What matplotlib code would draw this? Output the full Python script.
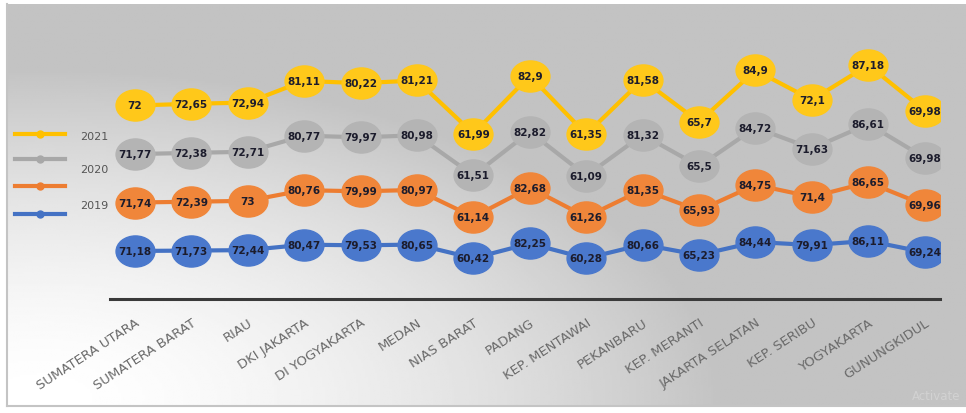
import numpy as np
import matplotlib
matplotlib.use("Agg")
import matplotlib.pyplot as plt
from matplotlib.path import Path
from matplotlib.lines import Line2D
from matplotlib.transforms import Affine2D

regions = ["SUMATERA UTARA", "SUMATERA BARAT", "RIAU", "DKI JAKARTA", "DI YOGYAKARTA",
           "MEDAN", "NIAS BARAT", "PADANG", "KEP. MENTAWAI", "PEKANBARU",
           "KEP. MERANTI", "JAKARTA SELATAN", "KEP. SERIBU", "YOGYAKARTA", "GUNUNGKIDUL"]

# values per year, stacked bottom to top as in the source workbook
ipm_2019 = [71.18, 71.73, 72.44, 80.47, 79.53, 80.65, 60.42, 82.25, 60.28, 80.66,
            65.23, 84.44, 79.91, 86.11, 69.24]
ipm_2020a = [71.74, 72.39, 73, 80.76, 79.99, 80.97, 61.14, 82.68, 61.26, 81.35,
             65.93, 84.75, 71.4, 86.65, 69.96]
ipm_2020b = [71.77, 72.38, 72.71, 80.77, 79.97, 80.98, 61.51, 82.82, 61.09, 81.32,
             65.5, 84.72, 71.63, 86.61, 69.98]
ipm_2021 = [72, 72.65, 72.94, 81.11, 80.22, 81.21, 61.99, 82.9, 61.35, 81.58,
            65.7, 84.9, 72.1, 87.18, 69.98]

series = [
    ("2019", ipm_2019, "#4472C4", "#4a78cc"),
    ("2020", ipm_2020a, "#ED7D31", "#f0863a"),
    ("2020", ipm_2020b, "#A8A8A8", "#b4b4b4"),
    ("2021", ipm_2021, "#FFC000", "#ffc81a"),
]

W, H = 966, 414
fig = plt.figure(figsize=(W / 100, H / 100), dpi=100)
fig.patch.set_facecolor("white")

# soft grey backdrop, lighter toward the lower left
bg = fig.add_axes([7 / W, 7 / H, 1 - 7 / W, 402 / H])
xx, yy = np.meshgrid(np.linspace(7, W, 400), np.linspace(5, 407, 200))
t = np.sqrt(((xx - 40) / 680.0) ** 2 + ((yy - 400) / 330.0) ** 2)
shade = 1 - 0.235 * np.clip(t, 0, 1) ** 1.6
bg.imshow(shade, cmap="gray", vmin=0, vmax=1, aspect="auto",
          extent=[0, 1, 0, 1], interpolation="bilinear")
bg.set_xticks([])
bg.set_yticks([])
for s in ["top", "right"]:
    bg.spines[s].set_visible(False)
for s in ["left", "bottom"]:
    bg.spines[s].set_color("#c4c4c4")
    bg.spines[s].set_linewidth(1.5)

ax = fig.add_axes([110 / W, (H - 300) / H, 830 / W, 270 / H])
ax.set_facecolor("none")
x = np.arange(len(regions))
ax.set_xlim(-0.44, 14.27)
ax.set_ylim(0, 400)

# slightly flattened bubble marker
ellipse = Path.unit_circle().transformed(Affine2D().scale(1.0, 0.8))

stack = np.cumsum([s[1] for s in series], axis=0)
for (name, vals, col, mcol), ys in zip(series, stack):
    ax.plot(x, ys, color=col, lw=3.0, zorder=2, solid_capstyle="round")
for (name, vals, col, mcol), ys in zip(series, stack):
    ax.plot(x, ys, linestyle="none", marker=ellipse, markersize=28,
            markerfacecolor=mcol, markeredgecolor=mcol, zorder=3)
    for xi, yi, v in zip(x, ys, vals):
        ax.text(xi, yi, f"{v:g}".replace(".", ","), ha="center", va="center",
                fontsize=7.5, fontweight="bold", color="#1c1c2c", zorder=4)

ax.set_xticks(x)
ax.set_xticklabels(regions, rotation=33, ha="right", rotation_mode="anchor",
                   fontsize=9.5, color="#6a6a6a")
ax.tick_params(axis="x", length=0, pad=12)
ax.set_yticks([])
for s in ["top", "right", "left"]:
    ax.spines[s].set_visible(False)
ax.spines["bottom"].set_color("#3a3a3a")
ax.spines["bottom"].set_linewidth(2.2)

# legend drawn by hand: four swatches, three year labels
sw_y = [215, 187, 160, 135]
for (name, vals, col, mcol), py in zip(series, sw_y):
    fy = (H - py) / H
    fig.add_artist(Line2D([15 / W, 65 / W], [fy, fy], color=col, lw=3,
                          transform=fig.transFigure))
    fig.add_artist(Line2D([40 / W], [fy], color=col, marker="o", markersize=5,
                          transform=fig.transFigure))
for label, py in [("2021", 137), ("2020", 170), ("2019", 206)]:
    fig.text(80 / W, (H - py) / H, label, fontsize=8, color="#555555",
             va="center", ha="left")

fig.text(912 / W, (H - 397) / H, "Activate", fontsize=8.5, color="#d2d2d2",
         ha="left", va="center")

fig.savefig("out.png", dpi=100)
